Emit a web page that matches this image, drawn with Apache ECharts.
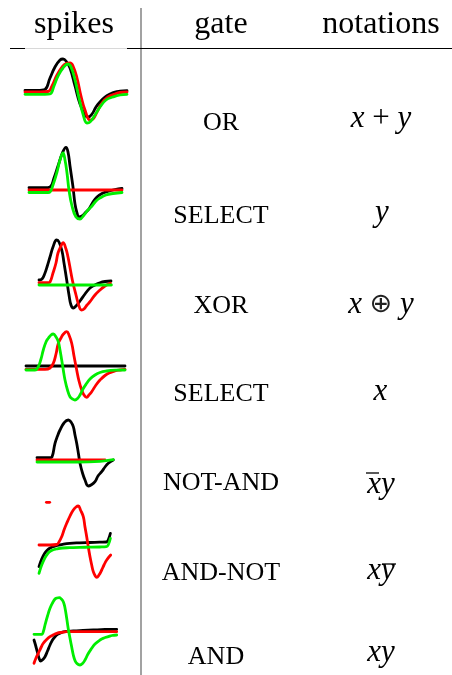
<!DOCTYPE html>
<html><head><meta charset="utf-8">
<script src="https://cdn.jsdelivr.net/npm/echarts@6/dist/echarts.min.js"></script>
<style>html,body{margin:0;padding:0;background:#fff}#c{width:452px;height:675px}</style>
</head><body><div id="c"></div><script>
// ---------- table text ----------
const headers = ['spikes', 'gate', 'notations'];
const gates = ['OR', 'SELECT', 'XOR', 'SELECT', 'NOT-AND', 'AND-NOT', 'AND'];
const notations = ['{i|x}{r| + }{i|y}', '{i|y}', '{i|x}{r| }{o|\u2295}{r| }{i|y}', '{i|x}', '{i|xy}', '{i|xy}', '{i|xy}'];

// ---------- spike traces (time, amplitude) ----------
const p1BlackT = [0,10,15,20,25,30,35,38,41,45,50,55,60,63,67,71,75,80,85,90,95,102];
const p1BlackV = [1.5,1.5,1.7,2.5,14,25,32,33,31,24,6,-12,-23,-25,-22,-15,-10,-5,-2,0,0.8,1.3];
const p1RedT = [0,15,23,27,32,37,41,45,48,52,56,60,65,68,72,77,83,90,95,102];
const p1RedV = [0,0,0.5,6,17,25,28.5,29,26,14,-4,-18,-28,-27,-20,-11,-5,-2,-0.5,0];
const p1GreenT = [0,20,25,29,33,38,43,46,50,54,58,62,65,70,75,81,88,95,102];
const p1GreenV = [-2.3,-2.3,-2,6,16,24,28,25,12,-6,-22,-31,-30,-23,-15,-8,-5,-3,-2.3];

const p2BlackT = [0,16,21,25,29,33,37,39,41,44,46,48,50,53,57,60,64,68,73,78,86,93];
const p2BlackV = [2.3,2.3,3,12,24,36,42.7,38,24,3,-14,-23,-27,-26,-22,-19,-12,-7,-3.5,-1.7,0.5,1.5];
const p2RedT = [0,93];
const p2RedV = [0,0];
const p2GreenT = [0,19,21,24,28,31,34,36,38,40,43,47,51,55,59,63,67,71,77,84,93];
const p2GreenV = [-2.5,-2.5,-2,5,18,30,37,30,17,0,-16,-27,-29,-25,-20,-16,-11,-8,-5,-3.5,-2.5];

const p3BlackT = [0,3,6,8,11,14,17.7,20,23,25,27.7,30,32,34.3,37,41,46,51,56,61,66,72];
const p3BlackV = [5,6,12,18,28,38,45,43,34,22,5,-10,-20,-23,-21,-16,-9,-3,0,2.3,3.5,4];
const p3RedT = [0,9,11,14,17,19,22,24,27,29,32,34,37,40,42.4,45,48,51,56,61,66,71.4];
const p3RedV = [2.3,2.3,3,12,22,32,39,42.3,36,28,12,2,-10,-21,-25,-24,-20,-16.7,-10,-5,-1,1.7];
const p3GreenT = [0,72.4];
const p3GreenV = [0,0];

const p4BlackT = [0,99];
const p4BlackV = [3,3];
const p4RedT = [0,19,24,27.3,30,32.3,35,37.5,40.7,43,45.7,48,50.7,53,55.7,58,60.7,63,65.7,70,74,79,84,89,94,99];
const p4RedV = [-0.3,-0.3,1,5.7,15,25.7,31,35,37.3,34,25.7,13,-1,-12,-21,-26,-28.3,-26,-22.7,-16,-11,-6.5,-3.7,-2,-1,-0.3];
const p4GreenT = [0,9,12.3,15,17.3,20,22.3,25,27.3,30,32.3,34,35.7,37.3,39,41.5,44,46.5,49,51.5,54,57,60.7,64,69,74,80.7,89,99];
const p4GreenV = [-1,-1,2.3,10,19,27,30.7,34,35,32,27.3,19,9,-1,-11,-21,-27.7,-30,-31,-29.5,-26,-20,-14.3,-10,-6,-3.5,-2,-1.2,-1];

const p5BlackT = [0,13,15,18,20.5,23,27,31.3,34,36.3,38,39.7,41.5,43,45.5,48,51.3,54,58,61,64.7,68,71.3,76.3];
const p5BlackV = [2.3,2.3,3,16.7,24,30,37,40,38,33.3,25,16.7,6,-3.3,-13,-20,-26,-25,-21.7,-16,-11.7,-7,-3.3,0];
const p5RedT = [0,68];
const p5RedV = [0,0];
const p5GreenT = [0,40,63,76.3];
const p5GreenV = [-2,-2,-1.3,0.3];

const p6BlackT = [0,2.7,5.7,8.2,10.7,13.7,17.4,23.7,30.7,40.7,50.7,60.7,67.4,69.2,71.4];
const p6BlackV = [-21.7,-14,-8.3,-5.3,-3.3,-1.8,-0.7,0.7,1.7,2.2,2.5,2.8,3,5,11.7];
const p6RedT = [0,11,17.7,20,22.7,25,27.7,31,34.3,37,39.3,41.5,44.3,46,47.7,49.3,51,52.7,54.3,56,57.7,60,62.7,65,67.7,71.7];
const p6RedV = [0,0,0.5,3,8.3,15,21.7,29,35,38,39,35,28.3,18,8.3,-2,-11.7,-20,-26.7,-30.5,-32.3,-30,-25,-20,-15,-10];
const p6GreenT = [0,2.7,5.7,8.2,10.7,13.7,17.4,23.7,30.7,40.7,50.7,60.7,67.4,69.2,71.4];
const p6GreenV = [-28.3,-20,-13.3,-9.3,-6.7,-5,-4,-3,-2.7,-2.3,-2.2,-2,-1.7,0,6.7];
const p6RedDashT = [7.4,10.7];
const p6RedDashV = [42.7,42.7];

const p7BlackT = [0,1.5,3.3,5,6.7,8.8,11,13.5,16,18.5,21,24,27.7,32,39.3,49,59.3,71,82.7];
const p7BlackV = [-8,-13,-19.7,-26,-29,-27.5,-24.7,-19,-13,-8,-4.7,-2.2,-0.3,0.5,1,1.5,2,2.5,2.7];
const p7RedT = [0,2,4.3,6.8,9.3,12.7,16,19.3,22.7,27.7,32.7,52.7,82.7];
const p7RedV = [-31.3,-26,-21.3,-16,-11.3,-7.5,-4.7,-2.8,-1.3,-0.3,0.3,0.3,0.3];
const p7GreenT = [0,7.7,9.5,11,13.5,16,18.5,21,23,25.3,27.3,29.3,31,32.7,34.3,36,37.7,39.3,41,42.7,46,48.5,51,54,57.7,61,66,70,74.3,78,82.7];
const p7GreenV = [-2.3,-2.3,1,7,16,23.7,29,33,34,34.3,33,30.3,24,13.7,3,-6.3,-15,-23,-28.5,-31.3,-33,-31.5,-28,-22,-16.3,-12,-8,-6,-4.7,-3.5,-3];

// amplitude scale (domain) and time span of each panel
const yDomains = [[-35,37],[-32,48],[-30,50],[-36,44],[-30,45],[-37,47],[-36,39]];
const tSpans = [102,93,73,99,77,72,84];

// ---------- layout (not data) ----------
const boxes = [
  {left:25, top:55,  height:72},
  {left:29, top:142, height:80},
  {left:39, top:235, height:80},
  {left:26, top:325, height:80},
  {left:37, top:415, height:75},
  {left:39, top:498, height:84},
  {left:34, top:593, height:75}
];
const COLORS = {black:'#000000', red:'#ff0000', green:'#00ee00'};

const panels = [
  [[p1BlackT,p1BlackV,'black'],[p1RedT,p1RedV,'red'],[p1GreenT,p1GreenV,'green']],
  [[p2BlackT,p2BlackV,'black'],[p2RedT,p2RedV,'red'],[p2GreenT,p2GreenV,'green']],
  [[p3BlackT,p3BlackV,'black'],[p3RedT,p3RedV,'red'],[p3GreenT,p3GreenV,'green']],
  [[p4BlackT,p4BlackV,'black'],[p4RedT,p4RedV,'red'],[p4GreenT,p4GreenV,'green']],
  [[p5BlackT,p5BlackV,'black'],[p5RedT,p5RedV,'red'],[p5GreenT,p5GreenV,'green']],
  [[p6BlackT,p6BlackV,'black'],[p6RedDashT,p6RedDashV,'red'],[p6RedT,p6RedV,'red'],[p6GreenT,p6GreenV,'green']],
  [[p7BlackT,p7BlackV,'black'],[p7RedT,p7RedV,'red'],[p7GreenT,p7GreenV,'green']]
];

const grid = [], xAxis = [], yAxis = [], series = [];
panels.forEach((traces, i) => {
  grid.push({left: boxes[i].left, top: boxes[i].top, width: tSpans[i], height: boxes[i].height, show: false});
  xAxis.push({type:'value', gridIndex:i, min:0, max:tSpans[i], show:false});
  yAxis.push({type:'value', gridIndex:i, min:yDomains[i][0], max:yDomains[i][1], show:false});
  traces.forEach((tr, k) => {
    series.push({
      type:'line', xAxisIndex:i, yAxisIndex:i,
      data: tr[0].map((t, j) => [t, tr[1][j]]),
      symbol:'none', smooth:0.45, clip:false, silent:true, z: 2 + k,
      lineStyle:{color: COLORS[tr[2]], width: 2.8, cap:'round', join:'round'}
    });
  });
});

const serif = "'Liberation Serif','Times New Roman',serif";
const headerX = [74, 221, 381];
const gateX = [221, 221, 221, 221, 221, 221, 216];
const gateY = [123, 216, 306.5, 394.5, 483, 573, 657];
const notX = [381, 382, 381, 380.5, 381, 381, 381];
const notY = [118.8, 212.8, 304.5, 392.2, 484.5, 571.2, 652.8];

const graphic = [];
headers.forEach((h, i) => graphic.push({type:'text', x:headerX[i], y:25, style:{text:h, font:'32px ' + serif, fill:'#000', align:'center', verticalAlign:'middle'}}));
gates.forEach((g, i) => graphic.push({type:'text', x:gateX[i], y:gateY[i], style:{text:g, font:'26px ' + serif, fill:'#000', align:'center', verticalAlign:'middle'}}));
notations.forEach((n, i) => graphic.push({type:'text', x:notX[i], y:notY[i], style:{
  text:n, align:'center', verticalAlign:'middle', fill:'#000',
  rich:{
    i:{fontStyle:'italic', fontSize:31, fontFamily:"'Liberation Serif',serif", fill:'#000'},
    r:{fontSize:31, fontFamily:"'Liberation Serif',serif", fill:'#000'},
    o:{fontSize:27, fontFamily:"'DejaVu Sans',sans-serif", fill:'#222'}
  }}}));
// overlines (x-bar, y-bar)
graphic.push({type:'line', shape:{x1:366, y1:473, x2:379, y2:473}, style:{stroke:'#000', lineWidth:1.3}});
graphic.push({type:'line', shape:{x1:382, y1:564, x2:396, y2:564}, style:{stroke:'#000', lineWidth:1.3}});
// rules
graphic.push({type:'line', shape:{x1:141, y1:8, x2:141, y2:675}, style:{stroke:'#707070', lineWidth:1.3}});
graphic.push({type:'line', shape:{x1:10, y1:48.5, x2:25, y2:48.5}, style:{stroke:'#000', lineWidth:1}});
graphic.push({type:'line', shape:{x1:25, y1:48.5, x2:127, y2:48.5}, style:{stroke:'#d8d8d8', lineWidth:1}});
graphic.push({type:'line', shape:{x1:127, y1:48.5, x2:452, y2:48.5}, style:{stroke:'#000', lineWidth:1}});

const chart = echarts.init(document.getElementById('c'), null, {renderer:'canvas'});
chart.setOption({animation:false, backgroundColor:'#fff', grid, xAxis, yAxis, series, graphic});
</script></body></html>
